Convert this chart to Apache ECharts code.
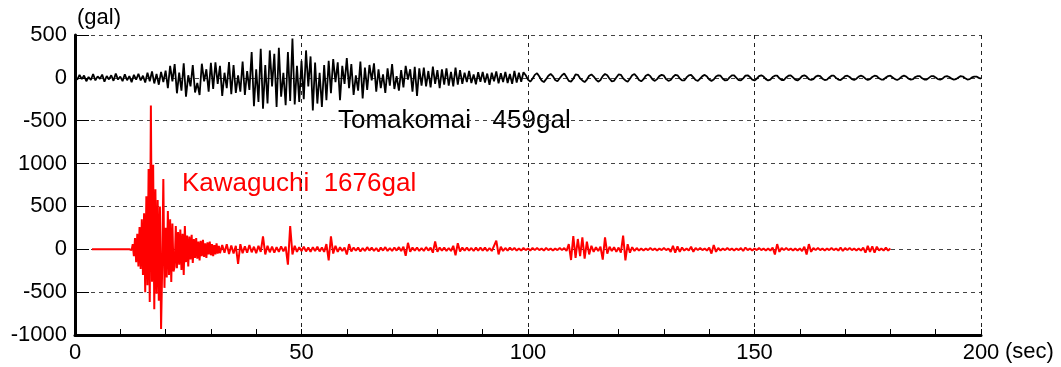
<!DOCTYPE html>
<html>
<head>
<meta charset="utf-8">
<script src="https://cdn.jsdelivr.net/npm/echarts@6/dist/echarts.min.js"></script>
<style>
html,body{margin:0;padding:0;background:#fff;}
#chart{width:1061px;height:367px;}
</style>
</head>
<body>
<div id="chart"></div>
<script>
// ---- Data (gal) ----
const xTicks = [0, 50, 100, 150, 200];
const yTickLabels = ['-1000', '-500', '0', '500', '1000', '-500', '0', '500'];

// Tomakomai: sampled every 0.5 s from t = 0 to 200 s
const tomakomaiStep = 0.5;
const tomakomaiOffset = 2000; // drawn in the upper panel
const tomakomai = [
  12,-20,35,-15,28,-40,10,-25,45,-30,18,-12,38,-45,22,-18,30,-35,50,-20,15,-38,42,-28,20,-50,35,-22,48,-30,25,
  -55,60,-40,75,-65,45,-80,70,-50,85,
  -120,140,-40,160,-180,60,-150,170,-220,30,-100,150,-170,-60,-200,165,-40,100,-160,175,
  -130,180,-70,140,-210,60,-120,185,-190,150,-175,30,-160,190,-200,80,-140,
  300,-330,100,-280,340,-360,150,-300,320,-100,280,-340,350,-220,60,-320,300,-270,459,-310,140,-280,200,
  -250,320,-100,250,-380,180,-300,60,-340,150,-260,200,
  -180,220,-50,180,-260,140,-70,230,-120,160,-200,30,-150,190,-240,120,
  -140,150,-30,170,-160,100,-120,40,-175,110,-90,160,-130,20,-150,90,-110,140,-20,100,-160,130,
  -210,110,-90,120,-100,80,-110,130,-70,90,-120,100,-80,110,-90,70,-100,120,-80,90,
  -70,60,-50,80,-60,40,-75,65,-45,70,-55,50,-80,60,-40,75,-65,55,-50,70,-60,45,-70,80,-55,60,-45,65,
  30,-20,-45,-10,35,55,15,-30,-50,-15,25,45,20,-25,-40,-5,30,50,10,-35,-45,-10,40,35,-5,-30,-50,-20,25,40,15,-20,-45,-25,20,45,30,-10,-40,-35,5,40,35,-5,-30,-45,-10,30,45,15,-25,-40,
  -15,25,40,20,-20,-35,-15,20,35,25,-15,-35,-25,10,35,30,-5,-30,-30,5,30,35,5,-25,-35,-10,20,35,15,-20,-35,-20,15,30,25,-10,-30,-25,5,30,30,0,-25,-30,-5,25,30,10,-20,-30,
  -10,20,30,15,-15,-30,-20,10,25,25,-5,-25,-25,5,25,30,5,-20,-30,-10,20,30,15,-15,-25,-15,15,25,20,-10,-25,-20,5,25,25,0,-20,-25,-5,20,25,10,-15,-25,-10,15,25,15,-10,-25,
  -15,10,25,20,-5,-20,-20,5,20,25,5,-15,-25,-10,15,25,15,-10,-20,-15,10,20,20,-5,-20,-20,0,20,20,5,-15,-20,-10,15,20,10,-10,-20,-15,5,20,15,-5,-20,-15,5,15,15,0,-10
];

// Kawaguchi: record starts at 3.75 s (flat), strong part every 0.25 s from 12 s, tail every 0.5 s from 32.5 s to 180 s
const kawaguchiLeadStart = 3.75;
const kawaguchiStrongStart = 12;
const kawaguchiStrongStep = 0.25;
const kawaguchiStrong = [
  0,5,-10,60,-80,130,-150,180,-200,260,-230,350,-300,420,-500,620,-420,937,-615,1676,-380,985,-700,700,-520,575,-600,500,-930,-200,820,-450,250,-330,447,-300,
  350,-380,300,-260,-200,270,-220,200,-180,230,-240,180,-300,270,-150,160,-200,150,-120,170,-160,120,-100,130,-110,90,-130,100,-80,110,-90,70,-100,80,-60,90,-70,60,-80,50,-60,70,-50,40,-45
];
const kawaguchiTailStart = 32.5;
const kawaguchiTailStep = 0.5;
const kawaguchiTail = [
  50,-40,60,-55,45,-50,40,-170,60,-45,35,-40,50,-35,30,-45,40,-30,150,-60,
  40,-35,30,-40,25,-30,35,-25,30,-180,270,-60,40,-30,25,-20,30,-25,20,-30,
  25,-20,30,-25,20,-30,60,-130,150,-50,40,-30,25,-20,20,-60,60,-25,20,-15,
  20,-25,15,-20,25,-15,20,-20,15,-25,20,-15,25,-20,15,-20,20,-15,25,-20,
  30,-75,75,-30,20,-15,20,-20,15,-20,25,-15,20,-40,90,-30,20,-15,20,-20,
  15,-20,40,-70,70,-25,20,-15,20,-15,15,-20,20,-15,20,-15,20,-20,15,-20,
  40,100,-60,30,-20,15,-15,20,-10,15,-15,10,-15,15,-10,10,-15,15,-10,15,
  -10,10,-15,15,-10,10,-15,10,-10,15,-10,15,-20,60,-125,155,-100,120,-80,140,
  -110,90,-60,40,-30,25,-20,30,-120,140,-50,30,-20,25,-30,20,-40,160,-130,60,
  -40,25,-20,15,-15,10,-15,10,-10,15,-10,10,-15,10,-10,15,-10,10,-30,40,
  -40,35,-30,20,-15,10,-15,30,-30,15,-10,15,-10,10,-15,20,-50,50,-30,15,
  -15,10,-10,15,-10,10,-15,10,-10,15,-20,20,-10,10,-15,10,-10,15,-10,10,
  -15,10,-15,20,-60,60,-30,15,-10,15,-10,10,-15,10,-15,10,-20,30,-60,60,
  -30,15,-10,15,-10,10,-15,10,-10,15,-10,10,-15,20,-20,15,-10,15,-10,10,
  -15,10,-15,20,-40,40,-30,35,-40,30,-15,10,-15,20,-15,10
];

// ---- Build series data ----
const tomakomaiData = tomakomai.map((v, i) => [i * tomakomaiStep, v + tomakomaiOffset]);
const kawaguchiData = [[kawaguchiLeadStart, 0]]
  .concat(kawaguchiStrong.map((v, i) => [kawaguchiStrongStart + i * kawaguchiStrongStep, v]))
  .concat(kawaguchiTail.map((v, i) => [kawaguchiTailStart + i * kawaguchiTailStep, v]));

const FONT = '"Liberation Sans", Arial, sans-serif';
const chart = echarts.init(document.getElementById('chart'), null, {renderer: 'canvas'});

chart.setOption({
  animation: false,
  backgroundColor: '#ffffff',
  grid: {left: 75, right: 80, top: 35, bottom: 32, containLabel: false},
  xAxis: {
    type: 'value',
    min: xTicks[0], max: xTicks[xTicks.length - 1], interval: 50,
    axisLine: {show: true, onZero: false, lineStyle: {color: '#000', width: 3}},
    axisTick: {show: true, inside: true, length: 6, lineStyle: {color: '#000', width: 1}},
    minorTick: {show: true, splitNumber: 5, length: 6, lineStyle: {color: '#000', width: 1}},
    axisLabel: {color: '#000', fontSize: 22, fontFamily: FONT, margin: 7},
    splitLine: {show: true, lineStyle: {color: '#222', width: 1, type: [4, 4]}}
  },
  yAxis: {
    type: 'value',
    min: -1000, max: 2500, interval: 500,
    axisLine: {show: true, onZero: false, lineStyle: {color: '#000', width: 3}},
    axisTick: {show: true, inside: true, length: 14, lineStyle: {color: '#000', width: 1}},
    axisLabel: {
      color: '#000', fontSize: 22, fontFamily: FONT, margin: 8,
      formatter: (v) => yTickLabels[Math.round((v + 1000) / 500)]
    },
    splitLine: {show: true, lineStyle: {color: '#444', width: 1, type: [4, 4]}}
  },
  series: [
    {
      name: 'Kawaguchi', type: 'line', data: kawaguchiData,
      showSymbol: false, symbol: 'none', sampling: null,
      lineStyle: {color: '#ff0000', width: 2}, z: 3
    },
    {
      name: 'Tomakomai', type: 'line', data: tomakomaiData,
      showSymbol: false, symbol: 'none', sampling: null,
      lineStyle: {color: '#000000', width: 1.8}, z: 4
    }
  ],
  graphic: [
    {type: 'text', left: 77, top: 7, style: {text: '(gal)', fontSize: 22, fontFamily: FONT, fill: '#000'}},
    {type: 'text', left: 1005, top: 341, style: {text: '(sec)', fontSize: 22, fontFamily: FONT, fill: '#000'}},
    {type: 'text', left: 338, top: 108, style: {text: 'Tomakomai   459gal', fontSize: 26, fontFamily: FONT, fill: '#000'}},
    {type: 'text', left: 182, top: 171, style: {text: 'Kawaguchi  1676gal', fontSize: 26, fontFamily: FONT, fill: '#ff0000'}}
  ]
});
</script>
</body>
</html>
